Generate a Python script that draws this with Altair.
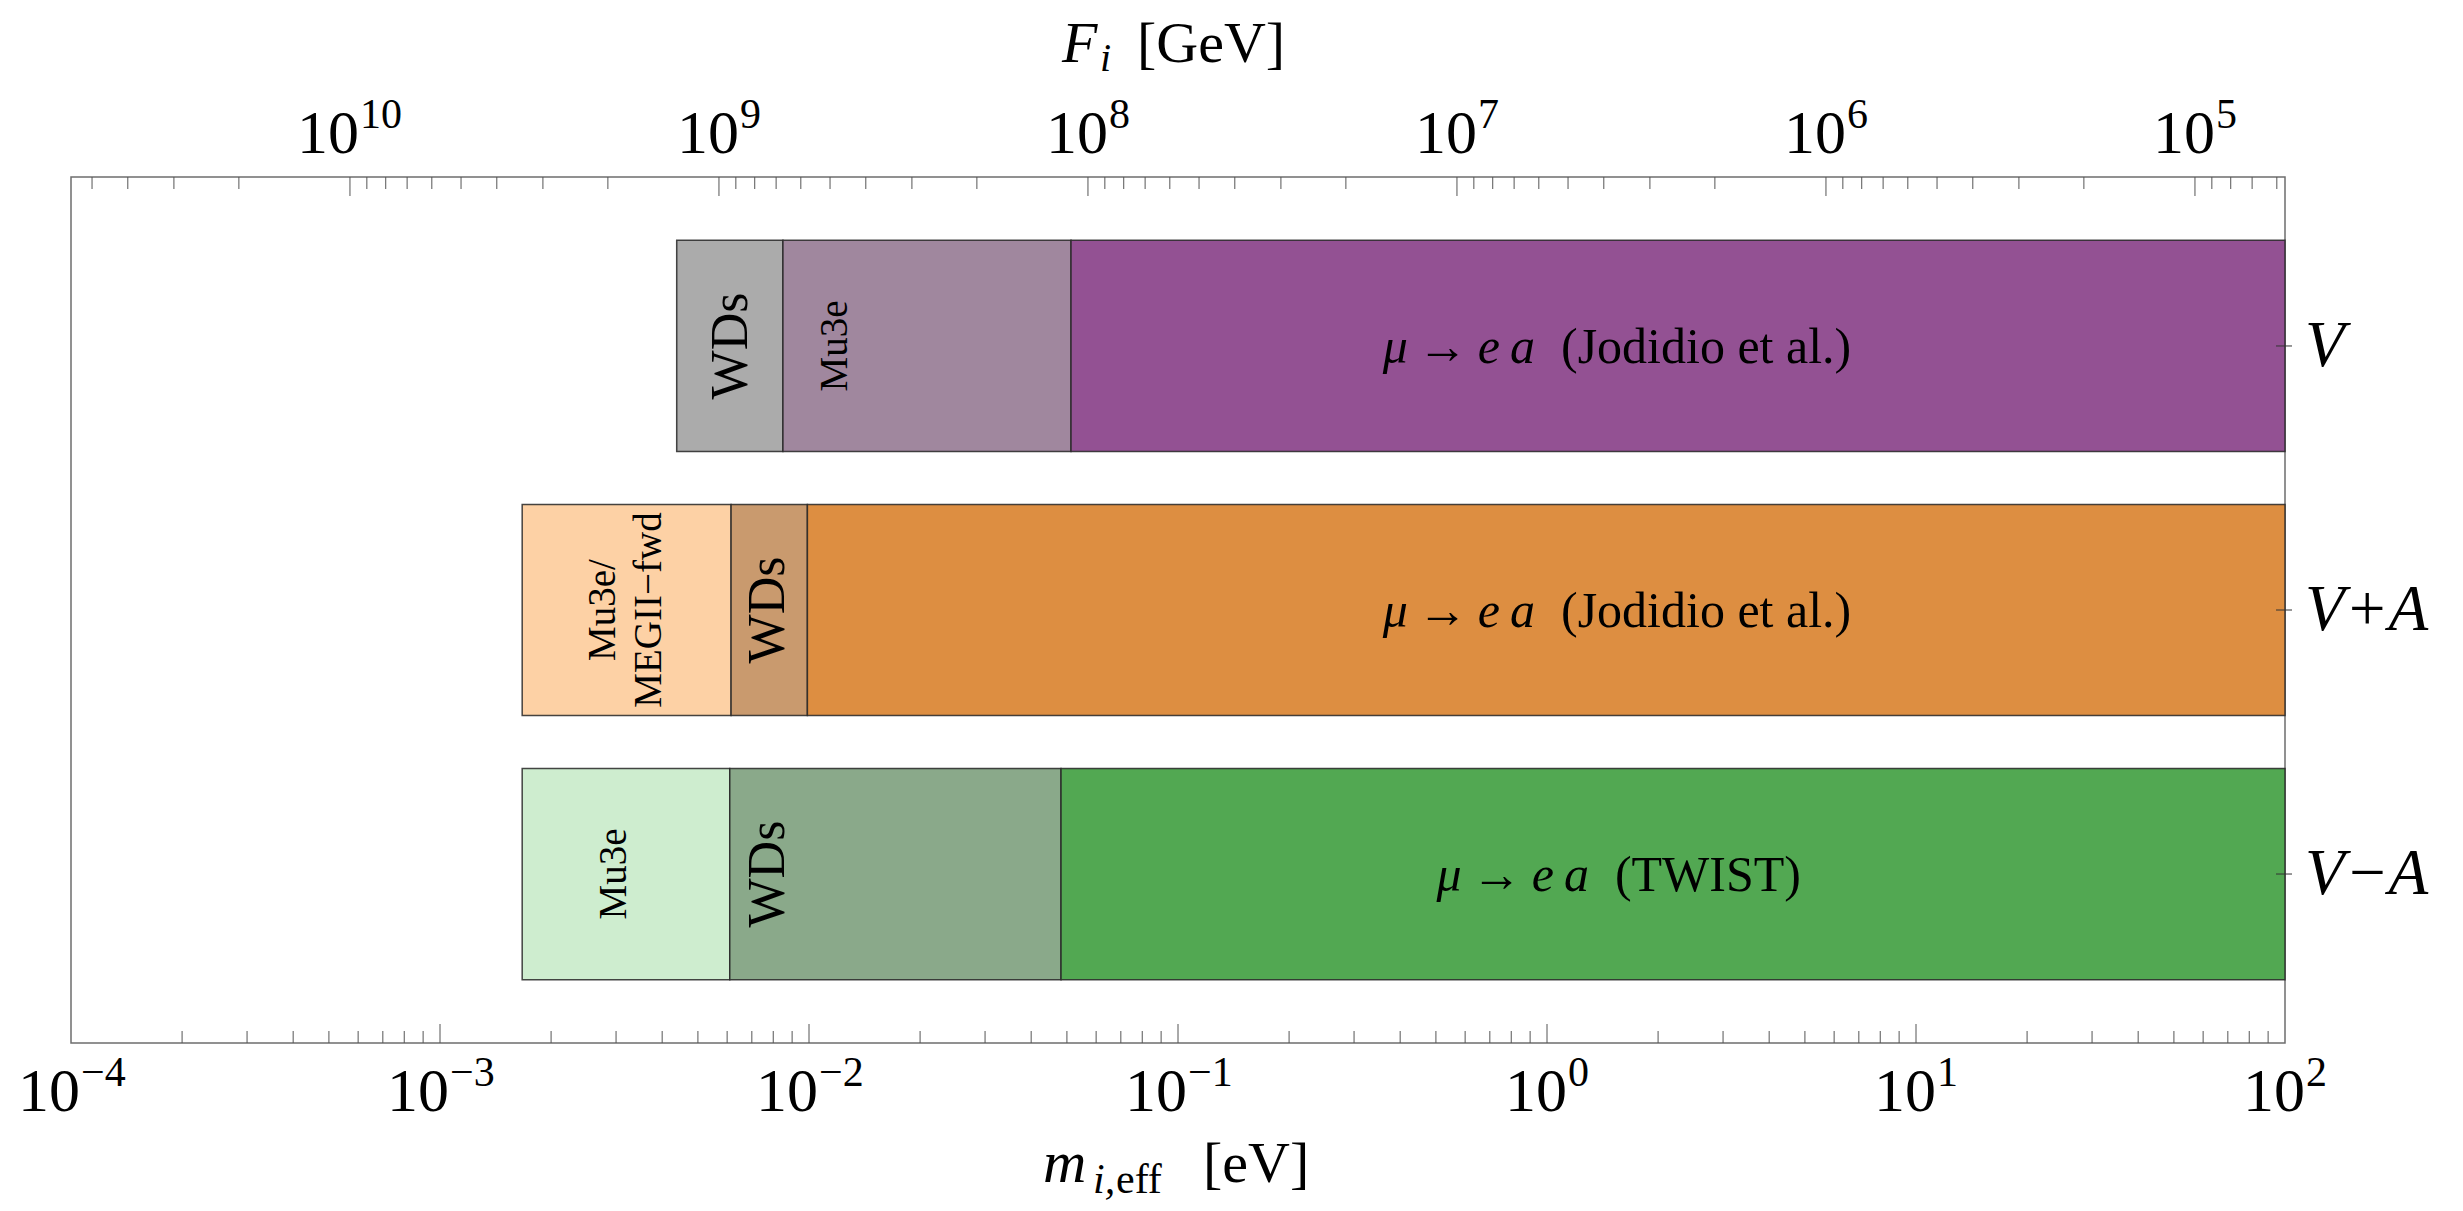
import altair as alt
import pandas as pd

FONT = "Liberation Serif"

# ---------------- data ----------------
row_names = ["V", "V+A", "V\u2212A"]
row_pos = [1, 0, -1]
half_height = 0.4

# bar segments (m_eff in eV)
seg_row = [1, 1, 1, 0, 0, 0, -1, -1, -1]
seg_lo = [4.38e-3, 8.5e-3, 0.0513, 1.67e-3, 6.15e-3, 9.9e-3, 1.67e-3, 6.1e-3, 0.0482]
seg_hi = [8.5e-3, 0.0513, 100.0, 6.15e-3, 9.9e-3, 100.0, 6.1e-3, 0.0482, 100.0]
seg_color = ["#ababab", "#a0879e", "#935193",
             "#fdd1a5", "#c99a6e", "#dd8e41",
             "#ceedcf", "#8aa98a", "#52a852"]

# rotated labels inside the bars
vlab_text = ["WDs", "Mu3e", "Mu3e/", "MEGII\u2212fwd", "WDs", "Mu3e", "WDs"]
vlab_row = [1, 1, 0, 0, 0, -1, -1]
vlab_x = [6.14e-3, 0.01176, 2.765e-3, 3.684e-3, 7.74e-3, 2.96e-3, 7.74e-3]
vlab_size = [52, 39, 39, 39, 52, 39, 52]

# horizontal labels on the main bars
main_row = [1, 0, -1]
main_x = [1.0, 1.0, 1.4]
main_left = ["\u03bc\u2009\u2192\u2009e\u2009a"] * 3
main_right = ["(Jodidio et al.)", "(Jodidio et al.)", "(TWIST)"]

# axes
x_domain = [1e-4, 100.0]
bottom_exps = [-4, -3, -2, -1, 0, 1, 2]
log_FxM = 6.756          # log10(F_i[GeV] * m_eff[eV])
top_exps = [5, 6, 7, 8, 9, 10]
minor_mult = [2, 3, 4, 5, 6, 7, 8, 9]

# ---------------- derived tables ----------------
W, H = 2214, 866
y_domain = [-1.64, 1.64]


def exp_str(e):
    return str(e).replace("-", "\u2212")


seg_df = pd.DataFrame({
    "lo": seg_lo, "hi": seg_hi,
    "y0": [r - half_height for r in seg_row],
    "y1": [r + half_height for r in seg_row],
    "color": seg_color,
})
vlab_df = pd.DataFrame({"text": vlab_text, "row": vlab_row, "x": vlab_x, "fs": vlab_size})
main_df = pd.DataFrame({"row": main_row, "x": main_x, "left": main_left, "right": main_right})
row_df = pd.DataFrame({"row": row_pos, "name": row_names})

bottom_lab = pd.DataFrame({"t": [10.0 ** e for e in bottom_exps],
                           "exp": [exp_str(e) for e in bottom_exps],
                           "n": [len(exp_str(e)) for e in bottom_exps]})
bottom_major = pd.DataFrame({"t": [10.0 ** e for e in bottom_exps[1:-1]]})
bottom_minor = pd.DataFrame({"t": [k * 10.0 ** e for e in bottom_exps[:-1] for k in minor_mult]})

F_lo = 10 ** (log_FxM - 2)   # at m = 100 eV
F_hi = 10 ** (log_FxM + 4)   # at m = 1e-4 eV
top_lab = pd.DataFrame({"t": [10.0 ** e for e in top_exps],
                        "exp": [exp_str(e) for e in top_exps],
                        "n": [len(exp_str(e)) for e in top_exps]})
top_minor_vals = [k * 10.0 ** e for e in range(4, 11) for k in minor_mult]
top_minor = pd.DataFrame({"t": [v for v in top_minor_vals if F_lo < v < F_hi]})

xscale = alt.Scale(type="log", domain=x_domain, nice=False)
yscale = alt.Scale(domain=y_domain, nice=False, zero=False)
fscale = alt.Scale(type="log", domain=[F_lo, F_hi], reverse=True, nice=False)

bars = alt.Chart(seg_df).mark_rect(stroke="#262626", strokeWidth=1.5, strokeOpacity=0.85).encode(
    x=alt.X("lo:Q", scale=xscale, axis=None),
    x2="hi:Q",
    y=alt.Y("y0:Q", scale=yscale, axis=None),
    y2="y1:Q",
    color=alt.Color("color:N", scale=None),
)

vlabels = alt.Chart(vlab_df).mark_text(
    angle=270, align="center", baseline="middle", font=FONT, color="black",
).encode(
    x=alt.X("x:Q", scale=xscale, axis=None),
    y=alt.Y("row:Q", scale=yscale, axis=None),
    text="text:N",
    size=alt.Size("fs:Q", scale=None, legend=None),
)

main_l = alt.Chart(main_df).mark_text(
    align="right", baseline="alphabetic", dx=-12, dy=17, font=FONT,
    fontStyle="italic", fontSize=50, color="black",
).encode(
    x=alt.X("x:Q", scale=xscale, axis=None),
    y=alt.Y("row:Q", scale=yscale, axis=None),
    text="left:N",
)
main_r = alt.Chart(main_df).mark_text(
    align="left", baseline="alphabetic", dx=14, dy=17, font=FONT,
    fontSize=50, color="black",
).encode(
    x=alt.X("x:Q", scale=xscale, axis=None),
    y=alt.Y("row:Q", scale=yscale, axis=None),
    text="right:N",
)

tick_color = "#555555"
BASE_FS, EXP_FS, EXP_RAISE = 62, 42, 25
# shift of the "10|exp" join point so that the whole label is centred on its tick
join_dx = {1: 20, 2: 9}


def power_labels(df, scale, y_base):
    layers = []
    for n, dx in join_dx.items():
        base = alt.Chart(df).transform_filter(f"datum.n == {n}").mark_text(
            align="right", baseline="alphabetic", dx=dx, font=FONT,
            fontSize=BASE_FS, color="black",
        ).encode(x=alt.X("t:Q", scale=scale, axis=None), y=alt.value(y_base),
                 text=alt.value("10"))
        expo = alt.Chart(df).transform_filter(f"datum.n == {n}").mark_text(
            align="left", baseline="alphabetic", dx=dx + 1, dy=-EXP_RAISE, font=FONT,
            fontSize=EXP_FS, color="black",
        ).encode(x=alt.X("t:Q", scale=scale, axis=None), y=alt.value(y_base),
                 text="exp:N")
        layers += [base, expo]
    return layers


b_major = alt.Chart(bottom_major).mark_rule(color=tick_color, strokeWidth=1).encode(
    x=alt.X("t:Q", scale=xscale, axis=None), y=alt.value(H), y2=alt.value(H - 19))
b_minor = alt.Chart(bottom_minor).mark_rule(color=tick_color, strokeWidth=1).encode(
    x=alt.X("t:Q", scale=xscale, axis=None), y=alt.value(H), y2=alt.value(H - 12))
b_labels = power_labels(bottom_lab, xscale, H + 68)

r_ticks = alt.Chart(row_df).mark_rule(color="#333333", strokeWidth=1).encode(
    y=alt.Y("row:Q", scale=yscale, axis=None), x=alt.value(W - 9), x2=alt.value(W + 7))
r_labels = alt.Chart(row_df).mark_text(
    align="left", baseline="middle", font=FONT, fontStyle="italic", fontSize=65, color="black",
).encode(y=alt.Y("row:Q", scale=yscale, axis=None), x=alt.value(W + 20), text="name:N")

t_major = alt.Chart(top_lab).mark_rule(color=tick_color, strokeWidth=1).encode(
    x=alt.X("t:Q", scale=fscale, axis=None), y=alt.value(0), y2=alt.value(19))
t_minor = alt.Chart(top_minor).mark_rule(color=tick_color, strokeWidth=1).encode(
    x=alt.X("t:Q", scale=fscale, axis=None), y=alt.value(0), y2=alt.value(12))
t_labels = power_labels(top_lab, fscale, -24)

# axis titles built from pieces (italic symbol, subscript, unit)
title_text = ["F", "i", "[GeV]", "m", "i,", "eff", "[eV]"]
title_px = [991, 1029, 1066, 972, 1022, 1045, 1132]
title_py = [-115, -106, -115, 1005, 1016, 1016, 1005]
title_fs = [58, 40, 58, 60, 42, 42, 58]
title_style = ["italic", "italic", "normal", "italic", "italic", "normal", "normal"]

dummy = pd.DataFrame({"a": [0]})
title_marks = [
    alt.Chart(dummy).mark_text(align="left", baseline="alphabetic", font=FONT,
                               fontSize=fs, fontStyle=st, color="black").encode(
        x=alt.value(px), y=alt.value(py), text=alt.value(t))
    for t, px, py, fs, st in zip(title_text, title_px, title_py, title_fs, title_style)
]

bottom_layer = alt.layer(bars, vlabels, main_l, main_r, b_minor, b_major, *b_labels,
                         r_ticks, r_labels, *title_marks)
top_layer = alt.layer(t_minor, t_major, *t_labels)

chart = alt.layer(bottom_layer, top_layer).resolve_scale(x="independent").properties(
    width=W, height=H,
    background="white",
    autosize=alt.AutoSizeParams(type="none"),
    padding={"left": 63, "top": 169, "right": 170, "bottom": 160},
).configure_view(stroke="#6e6e6e", strokeWidth=1.5)

chart.save("out.html", embed_options={"renderer": "svg", "actions": False})
